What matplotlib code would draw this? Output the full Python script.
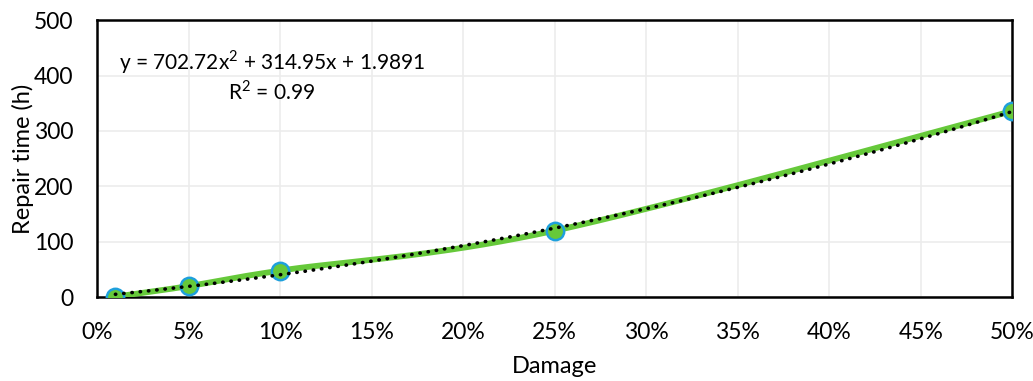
import numpy as np
import matplotlib
matplotlib.use("Agg")
import matplotlib.pyplot as plt
from matplotlib.ticker import PercentFormatter

# data
damage = [0.01, 0.05, 0.10, 0.25, 0.50]
repair_time = [1, 20, 48, 120, 336]
eq_label = "y = 702.72x$^2$ + 314.95x + 1.9891"
r2_label = "R$^2$ = 0.99"

plt.rcParams['font.family'] = ['Lato', 'DejaVu Sans']
plt.rcParams['mathtext.fontset'] = 'custom'
plt.rcParams['mathtext.rm'] = 'Lato'


def smooth_curve(x, y, n=40):
    """Excel-like smoothed line (Catmull-Rom style Bezier segments)"""
    x = np.asarray(x, float)
    y = np.asarray(y, float)
    px = np.concatenate([[x[0]], x, [x[-1]]])
    py = np.concatenate([[y[0]], y, [y[-1]]])
    xs, ys = [], []
    t = np.linspace(0, 1, n)
    for i in range(1, len(px) - 2):
        p0 = np.array([px[i], py[i]])
        p3 = np.array([px[i + 1], py[i + 1]])
        p1 = p0 + (np.array([px[i + 1], py[i + 1]]) - np.array([px[i - 1], py[i - 1]])) / 6
        p2 = p3 - (np.array([px[i + 2], py[i + 2]]) - np.array([px[i], py[i]])) / 6
        b = ((1 - t) ** 3)[:, None] * p0 + (3 * (1 - t) ** 2 * t)[:, None] * p1 \
            + (3 * (1 - t) * t ** 2)[:, None] * p2 + (t ** 3)[:, None] * p3
        xs.extend(b[:, 0])
        ys.extend(b[:, 1])
    return np.array(xs), np.array(ys)


fig = plt.figure(figsize=(10.33, 3.81), dpi=100)
ax = fig.add_axes([0.094, 0.22, 0.886, 0.727])

sx, sy = smooth_curve(damage, repair_time)
ax.plot(sx, sy, color='#66c93a', linewidth=4.2, zorder=3, solid_capstyle='round')

# polynomial trendline
coef = np.polyfit(damage, repair_time, 2)
tx = np.linspace(min(damage), max(damage), 200)
ax.plot(tx, np.polyval(coef, tx), color='black', linewidth=2.6,
        linestyle=(0, (0.1, 2.2)), dash_capstyle='round', zorder=5)

ax.plot(damage, repair_time, linestyle='none', marker='o', markersize=12.5,
        markerfacecolor='#66c93a', markeredgecolor='#1ea0dc', markeredgewidth=1.8, zorder=4)

ax.set_xlim(0, 0.5)
ax.set_ylim(0, 500)
ax.set_xticks(np.arange(0, 0.51, 0.05))
ax.set_yticks(np.arange(0, 501, 100))
ax.xaxis.set_major_formatter(PercentFormatter(1.0, decimals=0))
ax.tick_params(length=0, labelsize=16.5)
ax.tick_params(axis='x', pad=18)
ax.tick_params(axis='y', pad=17)
ax.grid(True, color='#ececec', linewidth=1.2)
ax.set_axisbelow(True)
for s in ax.spines.values():
    s.set_color('black')
    s.set_linewidth(1.8)

ax.set_xlabel("Damage", fontsize=17, labelpad=9)
ax.set_ylabel("Repair time (h)", fontsize=17, labelpad=0)

ax.text(0.191, 0.848, eq_label, transform=ax.transAxes, ha='center', va='center', fontsize=15)
ax.text(0.191, 0.744, r2_label, transform=ax.transAxes, ha='center', va='center', fontsize=15)

fig.savefig("out.png", dpi=100)
